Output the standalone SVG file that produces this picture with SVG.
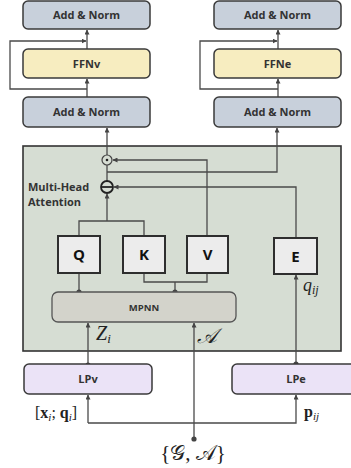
<svg xmlns="http://www.w3.org/2000/svg" width="351" height="468" viewBox="0 0 351 468">
<defs>
<marker id="ah" viewBox="0 0 10 10" refX="9" refY="5" markerWidth="5" markerHeight="5" orient="auto" markerUnits="userSpaceOnUse">
<path d="M0,0 L10,5 L0,10 z" fill="#444"/>
</marker>
<style>
.an{fill:#c8d0db;stroke:#3a3a3a;stroke-width:1.5}
.ffn{fill:#f7edc0;stroke:#3a3a3a;stroke-width:1.5}
.lp{fill:#ebe3f7;stroke:#3a3a3a;stroke-width:1.5}
.qk{fill:#ececec;stroke:#2e2e2e;stroke-width:2}
.lbl{font-family:"Open Sans","DejaVu Sans",sans-serif;font-weight:bold;font-size:11px;fill:#333;text-anchor:middle}
.big{font-family:"Open Sans","DejaVu Sans",sans-serif;font-weight:bold;font-size:15px;fill:#111;text-anchor:middle}
.math{font-family:"Liberation Serif","DejaVu Serif",serif;fill:#222}
.ln{fill:none;stroke:#4a4a4a;stroke-width:1.3}
.dot{fill:#444}
</style>
</defs>

<rect id="attn-bg" x="23" y="146" width="318" height="205" fill="#d6ddd3" stroke="#333" stroke-width="1.6"/>

<g id="connectors">
<path class="ln" d="M87,97 V79" marker-end="url(#ah)"/>
<path class="ln" d="M87,49 V30" marker-end="url(#ah)"/>
<path class="ln" d="M87,89 H10 V41 H86" marker-end="url(#ah)"/>
<path class="ln" d="M278,97 V79" marker-end="url(#ah)"/>
<path class="ln" d="M278,49 V30" marker-end="url(#ah)"/>
<path class="ln" d="M278,89 H200 V41 H277" marker-end="url(#ah)"/>
<path class="ln" d="M107,155 V128" marker-end="url(#ah)"/>
<path class="ln" d="M107,165 V181"/>
<path class="ln" d="M107,172 H277 V128" marker-end="url(#ah)"/>
<path class="ln" d="M207,237 V160 H113" marker-end="url(#ah)"/>
<path class="ln" d="M296,238 V187 H114" marker-end="url(#ah)"/>
<path class="ln" d="M79,236 V221 H144 V236 M107,221 V194" marker-end="url(#ah)"/>
<path class="ln" d="M79,273 V292"/>
<path class="ln" d="M144,273 V282 H207 V273 M175,282 V292"/>
<path class="ln" d="M88,365 V323" marker-end="url(#ah)"/>
<path class="ln" d="M194,439 V323" marker-end="url(#ah)"/>
<path class="ln" d="M296,364 V275" marker-end="url(#ah)"/>
<path class="ln" d="M88,423 V395" marker-end="url(#ah)"/>
<path class="ln" d="M88,423 H296 V395" marker-end="url(#ah)"/>
<circle class="dot" cx="79" cy="292" r="2.6"/>
<circle class="dot" cx="175" cy="292" r="2.6"/>
<circle class="dot" cx="88" cy="365" r="2.6"/>
<circle class="dot" cx="296" cy="364" r="2.6"/>
<circle class="dot" cx="194" cy="439" r="2.6"/>
</g>

<g id="addnorm-v-top"><rect class="an" x="23" y="1" width="127" height="28" rx="5"/><text class="lbl" x="86.5" y="19">Add &amp; Norm</text></g>
<g id="ffnv"><rect class="ffn" x="23" y="49" width="127" height="29" rx="5"/><text class="lbl" x="86.5" y="67.5">FFNv</text></g>
<g id="addnorm-v"><rect class="an" x="23" y="97" width="127" height="30" rx="5"/><text class="lbl" x="86.5" y="116">Add &amp; Norm</text></g>
<g id="addnorm-e-top"><rect class="an" x="214" y="1" width="127" height="28" rx="5"/><text class="lbl" x="277.5" y="19">Add &amp; Norm</text></g>
<g id="ffne"><rect class="ffn" x="214" y="49" width="127" height="29" rx="5"/><text class="lbl" x="277.5" y="67.5">FFNe</text></g>
<g id="addnorm-e"><rect class="an" x="214" y="97" width="127" height="30" rx="5"/><text class="lbl" x="277.5" y="116">Add &amp; Norm</text></g>

<g id="mha-label"><text class="lbl" style="text-anchor:start" x="28" y="191">Multi-Head</text><text class="lbl" style="text-anchor:start" x="28" y="206">Attention</text></g>

<g id="odot"><circle cx="107" cy="160" r="5" fill="#d6ddd3" stroke="#444" stroke-width="1.2"/><circle cx="107" cy="160" r="1.3" fill="#222"/></g>
<g id="ominus"><circle cx="107" cy="187" r="6" fill="#d6ddd3" stroke="#222" stroke-width="1.8"/><line x1="101" y1="187" x2="113" y2="187" stroke="#222" stroke-width="1.8"/></g>

<g id="q"><rect class="qk" x="58" y="236" width="42" height="37"/><text class="big" x="79" y="260">Q</text></g>
<g id="k"><rect class="qk" x="123" y="236" width="42" height="37"/><text class="big" x="144" y="260">K</text></g>
<g id="v"><rect class="qk" x="187" y="236" width="41" height="37"/><text class="big" x="207.5" y="260">V</text></g>
<g id="e"><rect class="qk" x="274" y="238" width="43" height="36"/><text class="big" x="295.5" y="262">E</text></g>

<g id="mpnn"><rect x="52" y="292" width="184" height="30" rx="6" fill="#d3d3cb" stroke="#555" stroke-width="1.3"/><text class="lbl" style="font-size:9.5px" x="144" y="311">MPNN</text></g>

<g id="lpv"><rect class="lp" x="24" y="364" width="128" height="30" rx="5"/><text class="lbl" x="88" y="383">LPv</text></g>
<g id="lpe"><rect class="lp" x="232" y="364" width="128" height="30" rx="5"/><text class="lbl" x="296" y="383">LPe</text></g>

<g id="labels">
<text class="math" x="96" y="340" font-size="20" font-style="italic">Z<tspan font-size="13" dy="3">i</tspan></text>
<text class="math" x="197" y="343" font-size="21" font-style="italic">𝒜</text>
<text class="math" x="303" y="291" font-size="18" font-style="italic">q<tspan font-size="12" dy="3">ij</tspan></text>
<text class="math" x="35" y="418" font-size="16">[<tspan font-weight="bold">x</tspan><tspan font-size="11" dy="3" font-style="italic">i</tspan><tspan dy="-3">; </tspan><tspan font-weight="bold">q</tspan><tspan font-size="11" dy="3" font-style="italic">i</tspan><tspan dy="-3">]</tspan></text>
<text class="math" x="304" y="417" font-size="16" font-weight="bold">p<tspan font-size="11" dy="3" font-style="italic" font-weight="normal">ij</tspan></text>
<text class="math" x="193" y="460" font-size="21" text-anchor="middle">{𝒢, 𝒜}</text>
</g>
</svg>
